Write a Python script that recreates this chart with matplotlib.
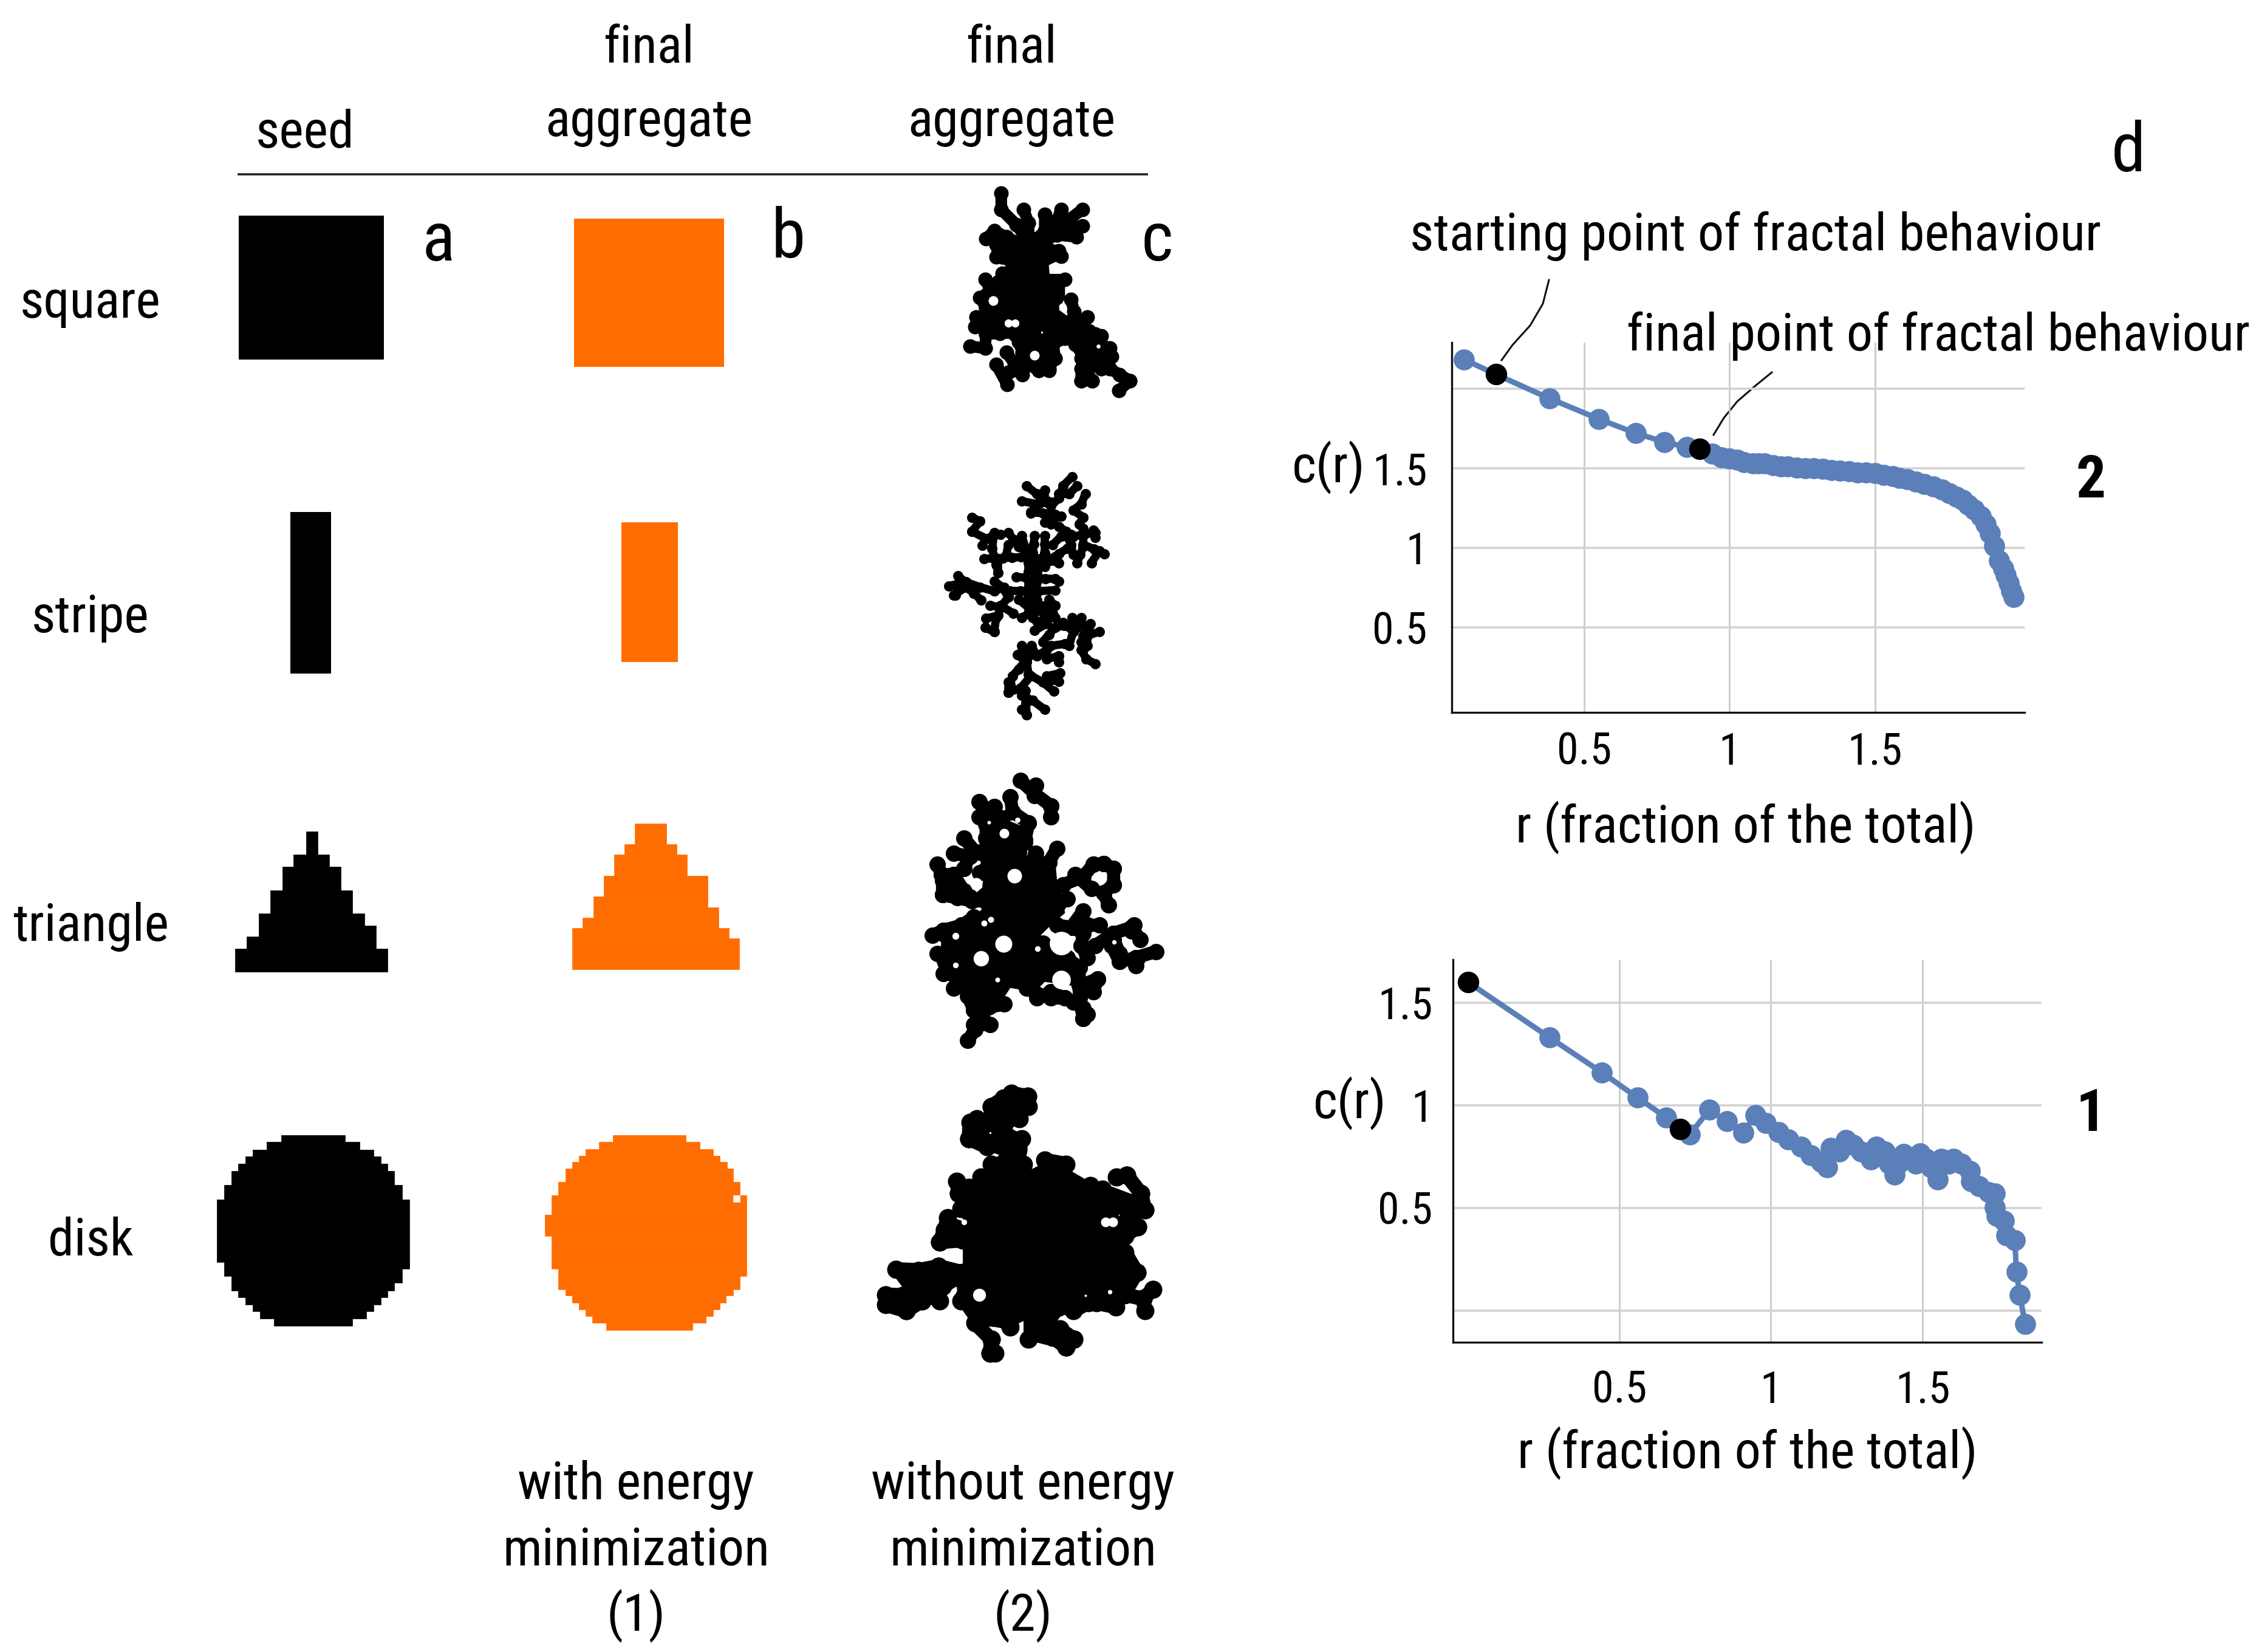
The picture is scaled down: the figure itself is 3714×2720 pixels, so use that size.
import matplotlib
matplotlib.use("Agg")
import matplotlib.pyplot as plt
import numpy as np
from matplotlib.patches import Rectangle, Polygon

plt.rcParams["font.family"] = ["Liberation Sans Narrow", "Roboto Condensed", "Open Sans Condensed", "Liberation Sans"]

BLUE = "#5b7fb8"
ORANGE = "#ff6d00"

# correlation curves
r2 = [0.086, 0.197, 0.382, 0.55, 0.678, 0.775, 0.854, 0.897, 0.94, 0.972, 1.0, 1.026, 1.05, 1.08, 1.10, 1.12,
      1.15, 1.176, 1.20, 1.23, 1.26, 1.29, 1.32, 1.35, 1.38, 1.41, 1.44, 1.47, 1.50, 1.53, 1.56, 1.584,
      1.61, 1.64, 1.67, 1.70, 1.73, 1.755, 1.78, 1.80, 1.82, 1.84, 1.863, 1.88, 1.895, 1.91, 1.927,
      1.94, 1.95, 1.96, 1.968, 1.976]
c2 = [2.185, 2.09, 1.938, 1.81, 1.72, 1.666, 1.632, 1.624, 1.59, 1.567, 1.56, 1.553, 1.54, 1.53, 1.53, 1.53,
      1.52, 1.51, 1.51, 1.505, 1.50, 1.50, 1.495, 1.49, 1.485, 1.48, 1.475, 1.472, 1.469, 1.46, 1.45, 1.44,
      1.43, 1.415, 1.40, 1.385, 1.365, 1.343, 1.32, 1.30, 1.272, 1.24, 1.20, 1.15, 1.09, 1.01, 0.92,
      0.87, 0.83, 0.78, 0.73, 0.69]
start2 = (0.197, 2.09)
final2 = (0.897, 1.624)

r1 = [0.002, 0.271, 0.442, 0.561, 0.655, 0.70, 0.733, 0.797, 0.855, 0.908, 0.95, 0.983, 1.025, 1.058, 1.10, 1.132,
      1.165, 1.185, 1.198, 1.226, 1.248, 1.272, 1.297, 1.33, 1.347, 1.375, 1.39, 1.408, 1.42, 1.437, 1.457, 1.478,
      1.492, 1.511, 1.528, 1.55, 1.561, 1.586, 1.602, 1.627, 1.655, 1.66, 1.685, 1.718, 1.738, 1.738, 1.743, 1.767,
      1.776, 1.804, 1.809, 1.82, 1.838]
c1 = [1.60, 1.33, 1.161, 1.037, 0.941, 0.885, 0.859, 0.978, 0.922, 0.868, 0.953, 0.915, 0.871, 0.834, 0.80, 0.758,
      0.724, 0.698, 0.792, 0.775, 0.83, 0.808, 0.775, 0.736, 0.80, 0.775, 0.715, 0.664, 0.715, 0.763, 0.74, 0.715,
      0.766, 0.74, 0.698, 0.639, 0.74, 0.715, 0.74, 0.715, 0.681, 0.63, 0.605, 0.576, 0.571, 0.503, 0.461, 0.439,
      0.368, 0.342, 0.19, 0.076, -0.064]
start1 = (0.002, 1.60)
final1 = (0.70, 0.885)

tick_vals = [0.5, 1, 1.5]
tick_labels = ["0.5", "1", "1.5"]

# pixelated seeds, rows of (top, bottom, left, right)
seed_triangle = [(68, 135, 287, 318), (135, 170, 253, 350), (170, 237, 222, 381), (237, 304, 190, 413),
                 (304, 338, 158, 445), (338, 370, 158, 477), (370, 405, 126, 477), (405, 472, 94, 508)]
final_triangle = [(45, 105, 1180, 1265), (105, 135, 1152, 1293), (135, 195, 1123, 1322), (195, 255, 1095, 1378),
                  (255, 287, 1067, 1378), (287, 316, 1067, 1407), (316, 346, 1038, 1407), (346, 376, 1010, 1435),
                  (376, 465, 1010, 1463)]
seed_disk = [(940, 960, 220, 392), (960, 982, 180, 432), (982, 1002, 142, 470), (1002, 1022, 122, 490),
             (1022, 1043, 103, 508), (1043, 1083, 84, 527), (1083, 1125, 65, 547), (1125, 1305, 45, 567),
             (1305, 1325, 65, 567), (1325, 1345, 65, 547), (1345, 1365, 84, 547), (1365, 1387, 84, 527),
             (1387, 1407, 103, 508), (1407, 1427, 122, 490), (1427, 1447, 142, 470), (1447, 1468, 162, 450),
             (1468, 1488, 200, 412)]
final_disk = [(940, 960, 1120, 1318), (960, 980, 1083, 1356), (980, 1000, 1046, 1392), (1000, 1018, 1028, 1410),
              (1018, 1037, 1010, 1430), (1037, 1075, 991, 1447), (1075, 1113, 972, 1465), (1113, 1170, 954, 1483),
              (1170, 1230, 936, 1483), (1230, 1325, 954, 1483), (1325, 1345, 972, 1483), (1345, 1383, 972, 1465),
              (1383, 1402, 991, 1447), (1402, 1422, 1010, 1428), (1422, 1441, 1028, 1410), (1441, 1461, 1046, 1392),
              (1461, 1480, 1065, 1373), (1480, 1500, 1102, 1337)]

# fractal aggregates traced by hand: branches, dense cores, white holes (x, y, r), in 3x crop coords
sq_core = [[(270, 320), (400, 300), (510, 300), (590, 340), (600, 420), (560, 440), (565, 500), (640, 540), (640, 600),
            (610, 660), (650, 690), (700, 730), (770, 790), (840, 830), (860, 900), (850, 970), (740, 970), (690, 880),
            (650, 810), (590, 850), (600, 920), (500, 960), (420, 930), (390, 830), (340, 780), (240, 790), (190, 760),
            (190, 690), (240, 670), (210, 590), (260, 520), (320, 470), (350, 440), (280, 400)]]
sq_holes = [(285, 615, 24), (360, 725, 20), (392, 725, 20), (490, 885, 24), (628, 645, 18), (805, 840, 10), (525, 770, 5)]
sq_branches = [
    [(325, 85), (325, 165), (400, 240), (440, 300)], [(435, 165), (460, 230), (460, 300)],
    [(540, 190), (540, 270), (500, 310)], [(620, 165), (600, 220), (560, 280)], [(725, 165), (640, 230), (560, 300)],
    [(725, 245), (640, 260)], [(695, 300), (600, 290)], [(250, 310), (290, 270), (350, 300), (430, 340)],
    [(300, 340), (330, 400), (400, 440)], [(300, 400), (620, 395)], [(610, 370), (540, 360)], [(640, 510), (540, 510)],
    [(330, 480), (380, 560), (360, 620), (340, 700)], [(245, 510), (270, 560), (230, 600)],
    [(220, 600), (250, 650), (310, 680)], [(200, 695), (320, 700)], [(195, 745), (330, 740)],
    [(170, 840), (245, 850), (250, 780), (450, 770)], [(350, 870), (430, 980)], [(300, 930), (355, 1030)],
    [(410, 820), (430, 870), (440, 920), (510, 960), (560, 960)], [(580, 810), (590, 900), (560, 950)],
    [(360, 970), (430, 960)], [(440, 740), (580, 830), (640, 800)], [(620, 800), (700, 730), (670, 610)],
    [(750, 695), (680, 740)], [(700, 740), (820, 790)], [(690, 830), (740, 900), (850, 850)],
    [(720, 900), (860, 950), (960, 1010), (905, 1060)], [(720, 950), (720, 1010), (775, 1010), (740, 950)],
    [(860, 850), (870, 890)], [(720, 830), (790, 780)], [(560, 700), (660, 720)], [(790, 900), (820, 950), (740, 920)],
]
st_branches = [
    [(600, 90), (650, 130), (720, 170), (720, 280)], [(825, 45), (780, 90), (760, 150), (720, 190)],
    [(850, 90), (810, 130), (760, 130)], [(690, 110), (690, 160), (640, 210), (620, 225)],
    [(575, 165), (650, 180), (700, 170)], [(620, 220), (740, 230)],
    [(890, 130), (870, 180), (830, 210), (880, 245), (860, 280), (880, 300)], [(690, 270), (770, 240)],
    [(760, 290), (830, 340), (940, 320)], [(800, 340), (820, 380), (830, 430)], [(880, 390), (850, 470)],
    [(960, 410), (920, 470)], [(880, 330), (880, 380), (985, 425)], [(930, 310), (940, 345)],
    [(330, 245), (370, 265), (330, 315), (400, 350), (380, 385)], [(440, 320), (430, 400), (460, 520)],
    [(470, 330), (430, 340)], [(510, 320), (560, 390), (600, 410)], [(510, 380), (500, 430)], [(575, 335), (600, 410)],
    [(640, 335), (630, 420)], [(690, 335), (690, 420)], [(390, 450), (620, 440), (760, 470)], [(460, 450), (460, 520)],
    [(730, 380), (770, 340), (820, 330)], [(800, 400), (720, 450)], [(630, 440), (630, 740)], [(610, 470), (610, 720)],
    [(650, 470), (650, 700)], [(690, 490), (660, 470)], [(550, 540), (740, 550), (760, 560)],
    [(215, 585), (300, 565), (370, 590), (440, 610), (490, 590)], [(260, 535), (300, 565)],
    [(240, 630), (300, 590), (340, 620), (375, 655)], [(260, 600), (250, 630)],
    [(440, 560), (480, 590), (510, 640), (470, 690), (420, 680)], [(520, 610), (570, 610)], [(560, 650), (620, 700)],
    [(470, 680), (535, 720)], [(400, 745), (460, 730), (470, 690)], [(395, 790), (440, 810), (450, 740)],
    [(660, 610), (740, 605)], [(710, 650), (740, 680), (660, 680)], [(575, 740), (640, 710), (730, 720)],
    [(650, 760), (740, 740)], [(640, 805), (700, 770)], [(680, 860), (740, 790), (830, 770), (910, 780)],
    [(780, 765), (830, 810), (810, 880)], [(825, 740), (850, 790)], [(870, 740), (850, 790)],
    [(960, 810), (900, 830), (900, 880)], [(915, 770), (880, 830)], [(870, 900), (895, 945), (940, 970)],
    [(870, 860), (880, 900)], [(575, 880), (610, 930), (560, 920)], [(625, 880), (650, 930), (700, 900)],
    [(700, 945), (760, 930), (760, 960)], [(720, 880), (790, 870)],
    [(555, 925), (600, 960), (610, 1020), (680, 1060), (735, 1105)],
    [(590, 960), (530, 1030), (510, 1110), (570, 1090), (620, 1030)], [(510, 1060), (510, 1110)],
    [(700, 1030), (765, 1015)], [(700, 1050), (760, 1055)], [(595, 1100), (600, 1220)],
    [(575, 1125), (630, 1150), (690, 1195)], [(575, 1195), (600, 1220)],
]
tr_core = [[(400, 420), (370, 250), (480, 230), (600, 280), (610, 360), (560, 420), (700, 420), (740, 540), (780, 620),
            (790, 700), (720, 760), (670, 810), (720, 880), (860, 960), (830, 1060), (690, 1040), (640, 1090), (520, 1070),
            (480, 1130), (340, 1180), (290, 1090), (180, 1010), (140, 900), (190, 850), (120, 810), (220, 750), (330, 730),
            (380, 680), (330, 640), (180, 620), (170, 540), (230, 500), (270, 540), (340, 610), (420, 540)]]
tr_holes = [(415, 252, 9), (490, 305, 24), (540, 515, 36), (350, 555, 30), (390, 750, 15), (422, 733, 15), (248, 812, 17),
            (485, 852, 42), (375, 925, 38), (248, 957, 14), (770, 850, 58), (655, 875, 14), (770, 1030, 46), (1032, 843, 11),
            (958, 515, 20), (555, 240, 13), (455, 1030, 12)]
tr_branches = [
    [(570, 45), (640, 110), (720, 170), (720, 225)], [(645, 70), (640, 120)],
    [(520, 125), (530, 200), (610, 255), (590, 350)], [(365, 150), (420, 200), (440, 175)], [(365, 225), (480, 230)],
    [(400, 260), (400, 400), (420, 560)], [(510, 350), (590, 340), (560, 400)], [(290, 330), (350, 400), (420, 430)],
    [(240, 405), (320, 420), (290, 480)], [(160, 460), (180, 510), (240, 510)],
    [(185, 540), (185, 610), (330, 640), (400, 640)], [(240, 510), (290, 590), (320, 620)], [(370, 500), (420, 460)],
    [(750, 380), (710, 450), (720, 560)], [(645, 405), (600, 480)],
    [(780, 560), (880, 520), (930, 460), (980, 455), (1030, 480), (1030, 560), (980, 600), (1005, 660)],
    [(840, 510), (920, 580)], [(800, 630), (760, 650)], [(880, 690), (820, 770), (750, 760)],
    [(790, 780), (860, 780), (900, 760), (960, 760)], [(880, 800), (870, 860), (900, 920)],
    [(940, 860), (1030, 800), (1120, 770), (1160, 830)], [(1130, 760), (1120, 790)],
    [(1020, 860), (1060, 940), (1140, 920), (1240, 890)], [(1140, 960), (1150, 920)], [(1030, 830), (1060, 900)],
    [(135, 810), (190, 785), (280, 760), (340, 720), (380, 760)], [(160, 900), (310, 910)],
    [(190, 1000), (320, 980), (420, 1000)], [(210, 820), (210, 980)], [(280, 790), (280, 880)],
    [(340, 800), (400, 800), (410, 870), (370, 870)], [(240, 1070), (300, 1020), (420, 1020)],
    [(310, 1110), (340, 1180), (490, 1150)], [(330, 1040), (430, 1090), (380, 1220), (310, 1330)],
    [(340, 1250), (420, 1250)], [(440, 1080), (400, 1100)], [(650, 1120), (720, 1090), (790, 1120), (720, 1120)],
    [(700, 930), (800, 920), (860, 970), (860, 1120), (880, 1220), (900, 1200)], [(860, 1060), (950, 1025), (930, 1090)],
    [(830, 1140), (880, 1170)], [(600, 1070), (650, 1100)], [(440, 940), (600, 1060)], [(680, 850), (700, 870)],
    [(600, 820), (640, 900)],
]
di_core = [[(440, 560), (540, 450), (640, 400), (740, 430), (800, 400), (940, 420), (1060, 490), (1140, 500), (1300, 560),
            (1320, 640), (1180, 640), (1260, 700), (1230, 780), (1240, 870), (1290, 930), (1240, 1040), (1180, 1110),
            (1020, 1100), (900, 1150), (880, 1180), (960, 1240), (920, 1310), (720, 1260), (720, 1170), (640, 1210),
            (580, 1200), (470, 1190), (400, 1090), (390, 1000), (250, 1060), (60, 1120), (20, 1080), (30, 1030), (120, 1000),
            (60, 920), (300, 890), (420, 890), (420, 810), (290, 800), (290, 740), (340, 650), (430, 680), (390, 620)],
           [(440, 280), (430, 190), (520, 150), (540, 90), (650, 30), (760, 60), (760, 120), (700, 190), (660, 220), (740, 260),
            (740, 330), (720, 410), (530, 410), (600, 350), (520, 320)]]
di_holes = [(500, 1040, 32), (1125, 680, 24), (1160, 680, 24), (555, 240, 5), (1145, 1025, 11), (425, 680, 14), (1025, 1045, 6)]
di_branches = [
    [(660, 45), (740, 60), (745, 110)], [(620, 70), (560, 110), (590, 170), (700, 170)],
    [(455, 190), (450, 270), (540, 310), (710, 270)], [(490, 170), (620, 210)], [(600, 150), (640, 300), (660, 360)],
    [(560, 395), (720, 395)], [(510, 460), (560, 470)], [(390, 480), (400, 540), (450, 510)], [(410, 615), (470, 600)],
    [(345, 660), (330, 720), (305, 780), (420, 770)], [(90, 915), (200, 920), (300, 900), (420, 930)],
    [(40, 1040), (240, 1050), (400, 950)], [(40, 1090), (140, 1120), (220, 1070), (300, 1000)], [(305, 1070), (305, 1000)],
    [(410, 1070), (440, 1000)], [(825, 375), (930, 395)], [(1180, 460), (1230, 450), (1300, 540), (1320, 620), (1100, 590)],
    [(1110, 520), (1200, 600)], [(1240, 640), (1285, 705), (1220, 750)], [(1050, 500), (1110, 560)],
    [(1220, 830), (1280, 930), (1220, 1030)], [(1360, 1015), (1310, 1060), (1320, 1120)], [(1220, 1040), (1310, 1060)],
    [(1175, 1100), (1080, 1080)], [(965, 1120), (1040, 1080)], [(480, 1180), (560, 1260), (555, 1330)],
    [(555, 1330), (580, 1330)], [(655, 1200), (620, 1160)], [(745, 1260), (800, 1200), (930, 1300), (970, 1260), (900, 1210)],
    [(800, 1150), (850, 1220)],
]

W, H = 3714, 2720
fig = plt.figure(figsize=(W / 100, H / 100), dpi=100, facecolor="white")
bg = fig.add_axes([0, 0, 1, 1])
bg.set_xlim(0, W)
bg.set_ylim(H, 0)
bg.axis("off")


def chart_axes(left, right, top, bottom, xlim, ylim, yticks, ylabels, xpad, ypad):
    ax = fig.add_axes([left / W, 1 - bottom / H, (right - left) / W, (bottom - top) / H])
    ax.patch.set_alpha(0)
    ax.set_xlim(xlim)
    ax.set_ylim(ylim)
    for s in ("top", "right"):
        ax.spines[s].set_visible(False)
    for s in ("left", "bottom"):
        ax.spines[s].set_linewidth(2.4)
        ax.spines[s].set_color("#111111")
    ax.set_xticks(tick_vals, tick_labels, fontsize=52)
    ax.set_yticks(yticks, ylabels, fontsize=52)
    ax.tick_params(axis="x", length=0, pad=xpad)
    ax.tick_params(axis="y", length=0, pad=ypad)
    ax.grid(True, axis="x", color="#c8c8c8", lw=1.9)
    ax.grid(True, axis="y", color="#d2d2d2", lw=2.6)
    ax.set_axisbelow(True)
    return ax


ax2 = chart_axes(2390, 3333, 564, 1173, (0.045, 2.014), (-0.034, 2.29), [0.5, 1, 1.5, 2], ["0.5", "1", "1.5", ""], 23, 29)
ax2.plot(r2, c2, "-o", color=BLUE, lw=6.5, ms=25, mew=0, clip_on=False)
ax2.plot(*zip(start2, final2), "o", ls="none", color="black", ms=25.5, mew=0, clip_on=False)
ax2.set_xlabel("r (fraction of the total)", fontsize=62, labelpad=32, x=0.5127)
ax2.set_ylabel("c(r)", fontsize=62, rotation=0, va="center", ha="center")
ax2.yaxis.set_label_coords((2187 - 2390) / (3333 - 2390), (1173 - 770) / (1173 - 564))

ax1 = chart_axes(2392, 3361, 1580, 2210, (-0.048, 1.892), (-0.154, 1.71), [0, 0.5, 1, 1.5], ["", "0.5", "1", "1.5"], 33, 24)
ax1.plot(r1, c1, "-o", color=BLUE, lw=6.5, ms=25, mew=0, clip_on=False)
ax1.plot(*zip(start1, final1), "o", ls="none", color="black", ms=25.5, mew=0, clip_on=False)
ax1.set_xlabel("r (fraction of the total)", fontsize=62, labelpad=17)
ax1.set_ylabel("c(r)", fontsize=62, rotation=0, va="center", ha="center")
ax1.yaxis.set_label_coords((2222 - 2392) / (3361 - 2392), (2210 - 1817) / (2210 - 1580))

# header rule
bg.plot([391, 1890], [287, 287], color="#222222", lw=2.6, solid_capstyle="butt")

# square and stripe seeds/aggregates
for x0, x1, y0, y1, col in [(393, 632, 355, 592, "black"), (945, 1192, 360, 604, ORANGE),
                            (478, 545, 843, 1109, "black"), (1023, 1116, 860, 1090, ORANGE)]:
    bg.add_patch(Rectangle((x0, y0), x1 - x0, y1 - y0, color=col, lw=0))


def stair(rows, col):
    for top, bottom, left, right in rows:
        x0, x1 = 330 + left / 1.65, 330 + right / 1.65
        y0, y1 = 1330 + top / 1.745, 1330 + bottom / 1.745
        bg.add_patch(Rectangle((x0, y0), x1 - x0, y1 - y0, color=col, lw=0.5))


stair(seed_triangle, "black")
stair(final_triangle, ORANGE)
stair(seed_disk, "black")
stair(final_disk, ORANGE)
stair([(1113, 1132, 1447, 1465)], "white")


def cluster(branches, cores, holes, x0, y0, bead):
    # beads along each branch so the edge looks like stuck particles
    for core in cores:
        bg.add_patch(Polygon([(x0 + x / 3, y0 + y / 3) for x, y in core], color="black", lw=0))
    for b in branches:
        pts = np.array([(x0 + x / 3, y0 + y / 3) for x, y in b])
        bg.plot(pts[:, 0], pts[:, 1], color="black", lw=0.8 * bead / 1.389, solid_capstyle="round", solid_joinstyle="round")
        for p, q in zip(pts[:-1], pts[1:]):
            n = max(int(np.hypot(*(q - p)) / (0.8 * bead)), 1)
            t = np.arange(n + 1) / n
            bg.plot(p[0] + t * (q - p)[0], p[1] + t * (q - p)[1], "o", color="black", ms=bead / 1.389, mew=0)
    for x, y, r in holes:
        bg.plot(x0 + x / 3, y0 + y / 3, "o", color="white", ms=2 * r / 3 / 1.389, mew=0)


cluster(sq_branches, sq_core, sq_holes, 1540, 290, 24)
cluster(st_branches, [], [], 1490, 770, 17)
cluster(tr_branches, tr_core, tr_holes, 1490, 1270, 27)
cluster(di_branches, di_core, di_holes, 1445, 1785, 30)

# leader lines
bg.plot([2550, 2540, 2519, 2490, 2472], [461, 500, 536, 568, 593], color="#111111", lw=2.2)
bg.plot([2917, 2890, 2860, 2838, 2821], [613, 635, 661, 688, 716], color="#111111", lw=2.2)

labels = [("seed", 502, 220), ("final", 1068, 79), ("aggregate", 1068, 202), ("final", 1665, 79), ("aggregate", 1665, 202),
          ("square", 149, 500), ("stripe", 149, 1017), ("triangle", 149, 1526), ("disk", 149, 2043),
          ("with energy", 1047, 2445), ("minimization", 1047, 2554), ("(1)", 1047, 2661),
          ("without energy", 1684, 2445), ("minimization", 1684, 2554), ("(2)", 1684, 2661),
          ("starting point of fractal behaviour", 2890, 389), ("final point of fractal behaviour", 3191, 553)]
for s, x, y in labels:
    bg.text(x, y, s, fontsize=62, ha="center", va="center")
for s, x, y in [("a", 722, 398), ("b", 1298, 393), ("c", 1905, 398), ("d", 3504, 251)]:
    bg.text(x, y, s, fontsize=82, ha="center", va="center")
bg.text(3442, 793, "2", fontsize=70, fontweight="bold", ha="center", va="center")
bg.text(3442, 1836, "1", fontsize=70, fontweight="bold", ha="center", va="center")

fig.savefig("out.png", dpi=100)
